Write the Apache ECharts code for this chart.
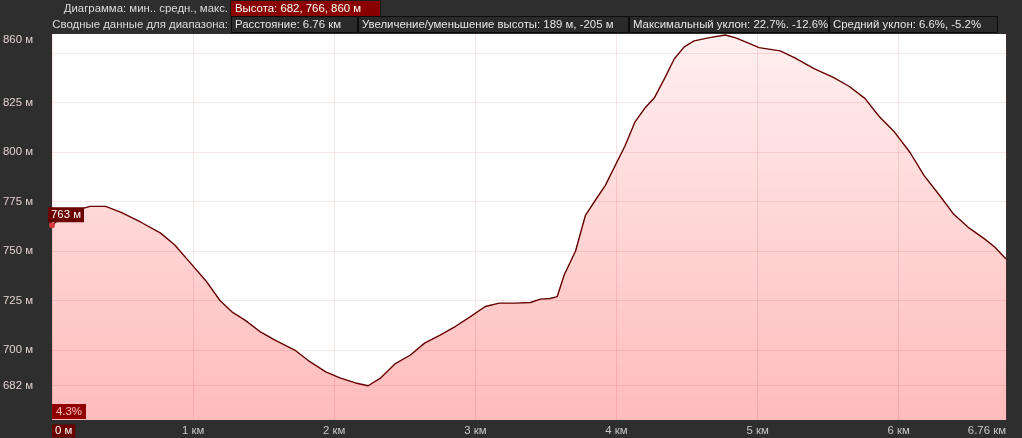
<!DOCTYPE html>
<html><head><meta charset="utf-8">
<script src="https://cdn.jsdelivr.net/npm/echarts@6/dist/echarts.min.js"></script>
<style>html,body{margin:0;padding:0;background:#2e2e2e;}#c{width:1022px;height:438px;}</style>
</head><body><div id="c"></div>
<script>
// distance along track, km
const distKm = [0,0.06,0.17,0.27,0.38,0.49,0.63,0.77,0.87,0.98,1.09,1.19,1.28,1.37,1.48,1.58,1.72,1.83,1.94,2.04,2.15,2.24,2.33,2.43,2.54,2.64,2.75,2.86,2.96,3.07,3.17,3.28,3.39,3.46,3.53,3.58,3.63,3.71,3.78,3.85,3.92,3.99,4.06,4.13,4.20,4.27,4.34,4.41,4.48,4.55,4.66,4.77,4.84,4.91,5.01,5.16,5.26,5.40,5.54,5.65,5.76,5.86,5.97,6.08,6.18,6.29,6.39,6.50,6.61,6.68,6.76];
// elevation, m
const elevM = [763,766.5,770.5,772.5,772.5,769.5,764.5,759,753,744,735,725,719,715,709,705,700,694,689,686,683.4,682,686,693,697.5,703.5,707.5,712,716.6,722,723.7,723.7,724,725.7,726,727,738,750,768,775.6,783,793,803,815,822,827.5,837,847,853,856,857.7,859,857.7,855.7,852.6,851,847.6,842,837.5,833,827,818,810,799.7,788,778,768.5,761.5,756,752,746];
// y grid lines and labels
const yGrid = [682,700,725,750,775,800,825,850];
const yLabels = [682,700,725,750,775,800,825];
const xMax = 6.76;
// header texts
const statTitle = 'Диаграмма: мин.. средн., макс.';
const statValue = 'Высота: 682, 766, 860 м';
const rangeTitle = 'Сводные данные для диапазона:';
const rangeBoxes = ['Расстояние: 6.76 км','Увеличение/уменьшение высоты: 189 м, -205 м','Максимальный уклон: 22.7%. -12.6%','Средний уклон: 6.6%, -5.2%'];
const maxElevLabel = 860;
const startLabel = '763 м';
const slopeLabel = '4.3%';

const FS = 11.4;
const FONT = FS + 'px "Liberation Sans", Arial, sans-serif';
const boxX = [231,358,629,829,998];
const graphics = [
  {type:'text', x:228, y:9, style:{text:statTitle, font:FONT, fill:'#dcdcdc', align:'right', verticalAlign:'middle'}},
  {type:'rect', shape:{x:230.5,y:0.5,width:150,height:16}, style:{fill:'#8a0000', stroke:'#1a1a1a', lineWidth:1}},
  {type:'text', x:235, y:9, style:{text:statValue, font:FONT, fill:'#ffffff', verticalAlign:'middle'}},
  {type:'text', x:228, y:25, style:{text:rangeTitle, font:FONT, fill:'#dcdcdc', align:'right', verticalAlign:'middle'}}
];
rangeBoxes.forEach((t,i)=>{
  graphics.push({type:'rect', shape:{x:boxX[i]+0.5,y:16.5,width:boxX[i+1]-boxX[i]-1,height:16}, style:{fill:'#2a2a2a', stroke:'#0c0c0c', lineWidth:1}});
  graphics.push({type:'text', x:boxX[i]+4, y:25, style:{text:t, font:FONT, fill:'#e6e6e6', verticalAlign:'middle'}});
});
graphics.push({type:'text', x:52, y:404, style:{text:slopeLabel, font:FONT, fill:'#ffffff', backgroundColor:'#6a0000', padding:[2,4,2,4]}});

const chart = echarts.init(document.getElementById('c'), null, {renderer:'canvas'});
chart.setOption({
  backgroundColor:'#2e2e2e',
  animation:false,
  textStyle:{fontFamily:'"Liberation Sans", Arial, sans-serif'},
  grid:{left:52, right:16, top:34, bottom:18, show:true, backgroundColor:'#ffffff', borderWidth:0, containLabel:false, outerBoundsMode:'none'},
  xAxis:{type:'value', min:0, max:xMax, interval:1,
    axisLine:{show:false}, axisTick:{show:false},
    splitLine:{show:true, lineStyle:{color:'rgba(200,60,60,0.13)', width:1}},
    axisLabel:{color:'#c8c8c8', fontSize:FS, margin:4, lineHeight:14, showMinLabel:true, showMaxLabel:true,
      alignMinLabel:'left', alignMaxLabel:'right',
      formatter:v=> v===0 ? '{z|0 м}' : (Math.abs(v-xMax)<1e-6 ? xMax+' км' : v+' км'),
      rich:{z:{color:'#ffffff', backgroundColor:'#6a0000', padding:[1,3,1,3], lineHeight:14, fontSize:FS}}}
  },
  yAxis:{type:'value', min:664.7, max:859.5,
    axisLine:{show:false},
    axisTick:{show:false, customValues:yGrid},
    splitLine:{show:true, lineStyle:{color:'rgba(200,60,60,0.12)', width:1}},
    axisLabel:{color:'#e2cfcf', fontSize:FS, margin:49, align:'left',
      customValues: yLabels.concat([859.5]),
      verticalAlignMaxLabel:'top',
      formatter:v=> (v>=859 ? maxElevLabel : v) + ' м'}
  },
  series:[{
    type:'line', data: distKm.map((d,i)=>[d, elevM[i]]),
    showSymbol:false, smooth:false,
    lineStyle:{color:'#660000', width:1.4},
    areaStyle:{origin:'start', color:new echarts.graphic.LinearGradient(0,0,0,1,[
      {offset:0, color:'rgba(255,0,0,0.09)'},{offset:1, color:'rgba(255,0,0,0.38)'}])},
    markPoint:{symbol:'circle', symbolSize:6, itemStyle:{color:'#d83a3a'},
      data:[{coord:[distKm[0], elevM[0]], value:elevM[0],
        label:{show:true, formatter:startLabel, position:[-1,-15], color:'#ffffff', backgroundColor:'#6a0000', padding:[2,3,2,3], fontSize:FS}}]}
  }],
  graphic: graphics
});
</script></body></html>
